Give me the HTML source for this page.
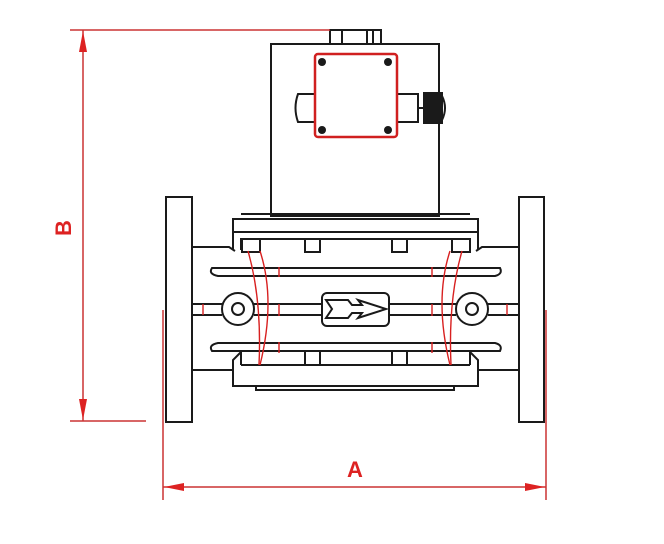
<!DOCTYPE html>
<html><head><meta charset="utf-8"><style>html,body{margin:0;padding:0;background:#fff}svg{display:block}</style></head>
<body>
<svg width="664" height="544" viewBox="0 0 664 544" xmlns="http://www.w3.org/2000/svg">
<g fill="none" stroke="#1a1a1a" stroke-width="2">
<!-- top box -->
<rect x="271" y="44" width="168" height="172"/>
<rect x="330" y="30" width="51" height="14"/>
<line x1="342" y1="30" x2="342" y2="44"/><line x1="367" y1="30" x2="367" y2="44"/><line x1="373" y1="30" x2="373" y2="44"/>
<!-- connectors -->
<path d="M314 94 H298 Q293 108 298 122 H314"/>
<path d="M397 94 H418 V122 H397"/>
<rect x="424" y="93" width="18" height="30" fill="#1a1a1a"/>
<path d="M442 96 Q448 108 442 120"/>
<line x1="418" y1="108" x2="424" y2="108"/>
<!-- flanges -->
<rect x="166" y="197" width="26" height="225"/>
<rect x="519" y="197" width="25" height="225"/>
<!-- top plate -->
<path d="M233 250 V219 H478 V250"/>
<line x1="233" y1="232" x2="478" y2="232"/>
<line x1="241" y1="214" x2="470" y2="214"/>
<path d="M241 250 V239 H470 V250"/>
<rect x="242" y="239" width="18" height="13"/>
<rect x="305" y="239" width="15" height="13"/>
<rect x="392" y="239" width="15" height="13"/>
<rect x="452" y="239" width="18" height="13"/>
<!-- pipe lines -->
<path d="M192 247 H229 L235 251"/><path d="M519 247 H482 L476 251"/>
<path d="M192 370 H233"/><path d="M519 370 H478"/>
<!-- fins -->
<path d="M212 268 H500 Q503 274 495 276 H218 Q208 274 212 268 Z"/>
<path d="M212 351 H500 Q503 345 495 343 H218 Q208 345 212 351 Z"/>
<!-- center line -->
<path d="M192 304 H222 M254 304 H322 M389 304 H456 M488 304 H519"/>
<path d="M192 315 H222 M254 315 H322 M389 315 H456 M488 315 H519"/>
<circle cx="238" cy="309" r="16"/><circle cx="238" cy="309" r="6"/>
<circle cx="472" cy="309" r="16"/><circle cx="472" cy="309" r="6"/>
<rect x="322" y="293" width="67" height="33" rx="5"/>
<path d="M326 300 H348 L352 305 H362 L358 300 L386 309 L358 318 L362 313 H352 L348 318 H326 L332 309 Z"/>
<!-- lower plate -->
<path d="M241 352 L233 360 V386 H478 V360 L470 352"/>
<line x1="241" y1="352" x2="241" y2="365"/><line x1="470" y1="352" x2="470" y2="365"/>
<line x1="241" y1="365" x2="470" y2="365"/>
<line x1="305" y1="351" x2="305" y2="365"/><line x1="320" y1="351" x2="320" y2="365"/>
<line x1="392" y1="351" x2="392" y2="365"/><line x1="407" y1="351" x2="407" y2="365"/>
<rect x="256" y="386" width="198" height="4"/>
</g>
<!-- junction box -->
<rect x="315" y="54" width="82" height="83" rx="3" fill="#fff" stroke="#d02020" stroke-width="2.5"/>
<g fill="#1a1a1a"><circle cx="322" cy="62" r="4"/><circle cx="388" cy="62" r="4"/><circle cx="322" cy="130" r="4"/><circle cx="388" cy="130" r="4"/></g>
<!-- red arcs / ticks -->
<g fill="none" stroke="#d82020" stroke-width="1.4">
<path d="M248 251 Q262 300 259 365"/><path d="M260 251 Q276 300 260 365"/>
<path d="M462 251 Q448 300 451 365"/><path d="M450 251 Q434 300 450 365"/>
<path d="M279 267 V277 M279 304 V316 M279 342 V353 M432 267 V277 M432 304 V316 M432 342 V353 M203 304 V315 M507 304 V315"/>
</g>
<!-- dimensions -->
<g stroke="#cc3333" stroke-width="1.5" fill="#dd2222">
<line x1="70" y1="30" x2="330" y2="30"/>
<line x1="70" y1="421" x2="146" y2="421"/>
<line x1="83" y1="30" x2="83" y2="421"/>
<path d="M83 31 L79 52 H87 Z" stroke="none"/>
<path d="M83 420 L79 399 H87 Z" stroke="none"/>
<line x1="163" y1="310" x2="163" y2="500"/>
<line x1="546" y1="310" x2="546" y2="500"/>
<line x1="163" y1="487" x2="546" y2="487"/>
<path d="M164 487 L184 483 V491 Z" stroke="none"/>
<path d="M545 487 L525 483 V491 Z" stroke="none"/>
</g>
<text x="355" y="477" font-family="Liberation Sans, sans-serif" font-weight="bold" font-size="22" fill="#dd2222" text-anchor="middle">A</text>
<text transform="translate(71,228) rotate(-90)" font-family="Liberation Sans, sans-serif" font-weight="bold" font-size="22" fill="#dd2222" text-anchor="middle">B</text>
</svg>
</body></html>
